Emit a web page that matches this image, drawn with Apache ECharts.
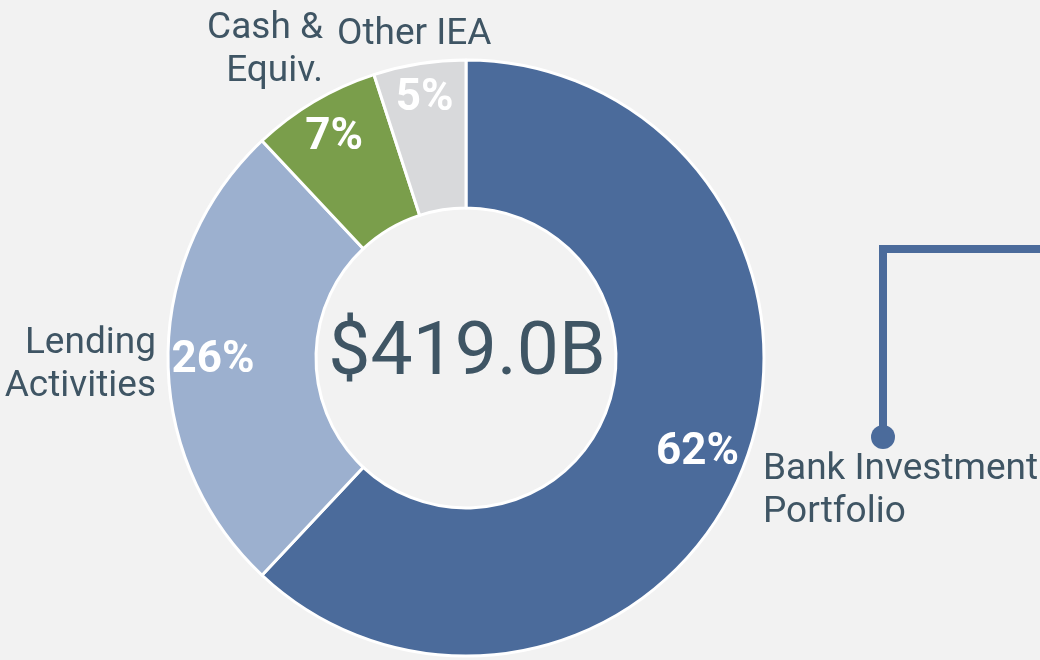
<!DOCTYPE html>
<html>
<head>
<meta charset="utf-8">
<script src="https://cdn.jsdelivr.net/npm/echarts@6/dist/echarts.min.js"></script>
<style>
html,body{margin:0;padding:0;background:#f2f2f2;}
#c{width:1040px;height:660px;}
</style>
</head>
<body>
<div id="c"></div>
<script>
var categories = ['Bank Investment\nPortfolio', 'Lending\nActivities', 'Cash &\nEquiv.', 'Other IEA'];
var shares = [62, 26, 7, 5];
var totalLabel = ['$419.0B'];
var colors = ['#4b6b9b', '#9cb0cf', '#7a9e4b', '#d8d9db'];

var FONT = 'Roboto, "Liberation Sans", sans-serif';
var TEXT = '#3f5564';
var CX = 466, CY = 358;

var data = categories.map(function (n, i) {
  return { name: n, value: shares[i], itemStyle: { color: colors[i] } };
});

// fixed positions for the outside name labels
var namePos = [
  { x: 763, y: 491, align: 'left' },
  { x: 156, y: 365, align: 'right' },
  { x: 323, y: 50, align: 'right' },
  { x: 337, y: 35, align: 'left' }
];
// radial distance of each percentage label
var labelR = [249, 253, 259, 265];
var sum = shares.reduce(function (a, b) { return a + b; }, 0);
var midAngles = [];
(function () {
  var acc = 0;
  shares.forEach(function (v) {
    midAngles.push((acc + v / 2) / sum * Math.PI * 2);
    acc += v;
  });
})();

var chart = echarts.init(document.getElementById('c'), null, { renderer: 'canvas' });
chart.setOption({
  backgroundColor: '#f2f2f2',
  animation: false,
  series: [
    {
      type: 'pie',
      center: [CX, CY],
      radius: [150, 298],
      startAngle: 90,
      clockwise: true,
      silent: true,
      data: data,
      itemStyle: { borderColor: '#ffffff', borderWidth: 3 },
      label: {
        show: true,
        position: 'outside',
        formatter: '{b}',
        color: TEXT,
        fontFamily: FONT,
        fontSize: 37,
        lineHeight: 43,
        overflow: 'none'
      },
      labelLine: { show: false },
      labelLayout: function (p) {
        var q = namePos[p.dataIndex];
        return { x: q.x, y: q.y, align: q.align, verticalAlign: 'middle' };
      }
    },
    {
      type: 'pie',
      center: [CX, CY],
      radius: [200, 300],
      startAngle: 90,
      clockwise: true,
      silent: true,
      data: data.map(function (d) { return { name: d.name, value: d.value }; }),
      itemStyle: { color: 'rgba(0,0,0,0)' },
      label: {
        show: true,
        position: 'inside',
        formatter: '{c}%',
        color: '#ffffff',
        fontFamily: FONT,
        fontWeight: 'bold',
        fontSize: 44,
        overflow: 'none'
      },
      labelLine: { show: false },
      labelLayout: function (p) {
        var i = p.dataIndex, a = midAngles[i], r = labelR[i];
        return {
          x: CX + Math.sin(a) * r,
          y: CY - Math.cos(a) * r + 3,
          align: 'center',
          verticalAlign: 'middle'
        };
      }
    }
  ],
  graphic: [
    {
      type: 'text',
      silent: true,
      style: {
        x: CX + 1, y: CY - 3,
        text: totalLabel[0],
        fill: TEXT,
        font: '75px ' + FONT,
        align: 'center',
        verticalAlign: 'middle'
      }
    },
    {
      type: 'polyline',
      silent: true,
      shape: { points: [[883, 437], [883, 249], [1045, 249]] },
      style: { stroke: '#4b6b9b', lineWidth: 8, fill: null }
    },
    {
      type: 'circle',
      silent: true,
      shape: { cx: 883, cy: 437, r: 12 },
      style: { fill: '#4b6b9b' }
    }
  ]
});
</script>
</body>
</html>
